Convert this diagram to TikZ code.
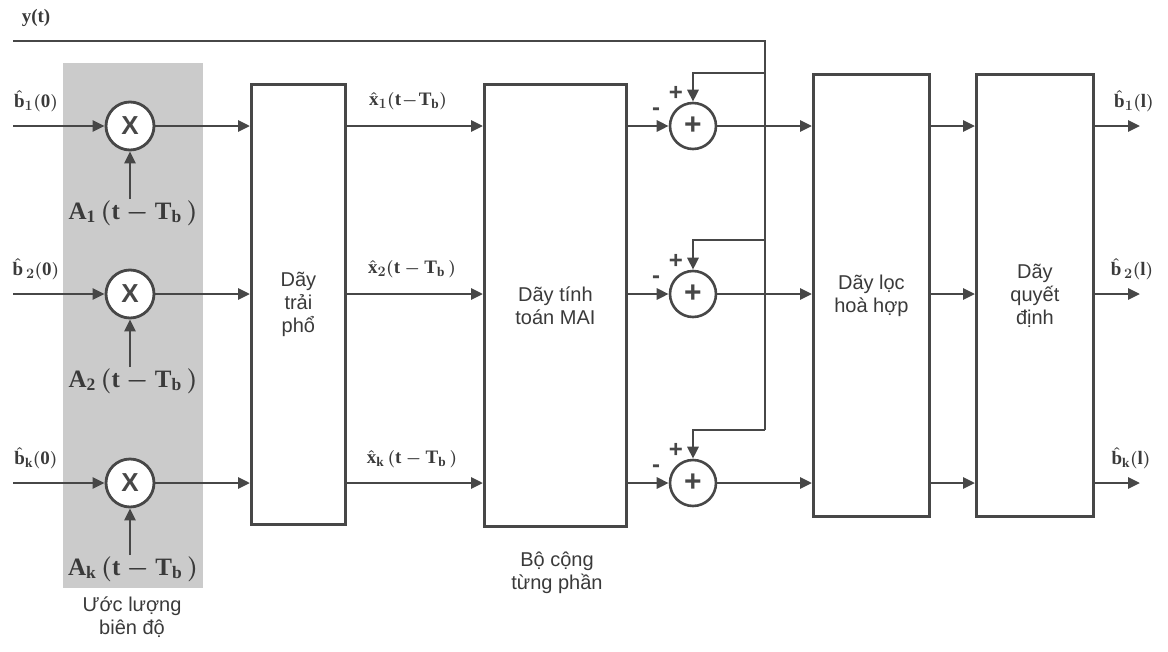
\documentclass[tikz,border=0pt]{standalone}
\usepackage{fontspec}
\setmainfont{Liberation Serif}
\setsansfont{Liberation Sans}
\usetikzlibrary{arrows.meta,positioning}
\definecolor{linegray}{HTML}{474747}
\definecolor{shadegray}{HTML}{CBCBCB}
\definecolor{textgray}{HTML}{3A3A3A}
\newcommand{\sigfont}{\fontsize{19}{21}\selectfont\bfseries\boldmath}
\newcommand{\ampfont}{\fontsize{25}{28}\selectfont\bfseries\boldmath}
\newcommand{\boxfont}{\fontsize{20}{23}\selectfont\sffamily}

\begin{document}
\begin{tikzpicture}[
  x=1pt, y=-1pt,
  line width=2.8pt, draw=linegray,
  blockbox/.style={draw=linegray, line width=2.8pt, fill=white, anchor=north west,
    inner sep=0pt, align=center, text=textgray, font=\boxfont},
  mulnode/.style={circle, draw=linegray, line width=2.8pt, fill=white, minimum size=48pt,
    inner sep=0pt, font=\sffamily\bfseries\fontsize{26}{26}\selectfont, text=linegray},
  sumnode/.style={circle, draw=linegray, line width=2.6pt, fill=white, minimum size=46pt,
    inner sep=0pt, font=\sffamily\bfseries\fontsize{30}{30}\selectfont, text=linegray},
  sig/.style={font=\sigfont, text=textgray, inner sep=0pt},
  amp/.style={font=\ampfont, text=textgray, inner sep=0pt},
  sign/.style={font=\sffamily\bfseries\fontsize{24}{24}\selectfont, text=linegray, inner sep=0pt},
  caption/.style={font=\boxfont, text=textgray, align=center, inner sep=0pt},
  arr/.style={draw=linegray, line width=2.8pt, -{Triangle[length=12pt, width=11pt]}}
]
  \useasboundingbox (0,0) rectangle (1168,651);

  % shaded amplitude estimation strip
  \fill[shadegray] (63,63) rectangle (203,588);

  % blocks
  \node[blockbox, minimum width=94pt, minimum height=440pt] (spread) at (250,83) {Dãy\\trải\\phổ};
  \node[blockbox, minimum width=142pt, minimum height=442pt] (mai) at (483,83) {Dãy tính\\toán MAI};
  \node[blockbox, minimum width=116pt, minimum height=442pt] (mf) at (812,73) {Dãy lọc\\hoà hợp};
  \node[blockbox, minimum width=117pt, minimum height=442pt] (dec) at (975,73) {Dãy\\quyết\\định};

  % multipliers and adders
  \node[mulnode] (m1) at (130,126) {X};
  \node[mulnode] (m2) at (130,294) {X};
  \node[mulnode] (m3) at (130,483) {X};
  \node[sumnode] (s1) at (693,126) {+};
  \node[sumnode] (s2) at (693,294) {+};
  \node[sumnode] (s3) at (693,483) {+};

  % inputs
  \coordinate (in1) at (13,126);
  \coordinate (in2) at (13,294);
  \coordinate (in3) at (13,483);
  \node[sig] (b1in) at (36,101) {$\hat{\mathrm{b}}_{1}\mathrm{(0)}$};
  \node[sig] (b2in) at (36,269) {$\hat{\mathrm{b}}_{\,2}\mathrm{(0)}$};
  \node[sig] (b3in) at (36,458) {$\hat{\mathrm{b}}_{\mathrm{k}}\mathrm{(0)}$};
  \draw[arr] (in1) -- (m1);
  \draw[arr] (in2) -- (m2);
  \draw[arr] (in3) -- (m3);

  % amplitudes
  \node[amp] (a1) at (133,213) {$\mathrm{A_1\,(t-T_b\,)}$};
  \node[amp] (a2) at (133,381) {$\mathrm{A_2\,(t-T_b\,)}$};
  \node[amp] (a3) at (133,569) {$\mathrm{A_k\,(t-T_b\,)}$};
  \draw[arr] (a1.north -| m1) -- (m1);
  \draw[arr] (a2.north -| m2) -- (m2);
  \draw[arr] (a3.north -| m3) -- (m3);

  % into spreading block
  \draw[arr] (m1) -- (m1 -| spread.west);
  \draw[arr] (m2) -- (m2 -| spread.west);
  \draw[arr] (m3) -- (m3 -| spread.west);

  % spread outputs
  \draw[arr] (m1 -| spread.east) -- (m1 -| mai.west);
  \draw[arr] (m2 -| spread.east) -- (m2 -| mai.west);
  \draw[arr] (m3 -| spread.east) -- (m3 -| mai.west);
  \node[sig] (x1) at (408,101) {$\hat{\mathrm{x}}_{1}\mathrm{(t\!-\!T_b)}$};
  \node[sig] (x2) at (412,269) {$\hat{\mathrm{x}}_{2}\mathrm{(t-T_b\,)}$};
  \node[sig] (x3) at (412,459) {$\hat{\mathrm{x}}_{\mathrm{k}}\mathrm{\,(t-T_b\,)}$};

  % MAI to adders
  \draw[arr] (s1 -| mai.east) -- (s1);
  \draw[arr] (s2 -| mai.east) -- (s2);
  \draw[arr] (s3 -| mai.east) -- (s3);
  \node[sign] (n1) at (656,112) {-};
  \node[sign] (n2) at (656,280) {-};
  \node[sign] (n3) at (656,469) {-};
  \node[sign] (p1) at (676,93) {+};
  \node[sign] (p2) at (676,261) {+};
  \node[sign] (p3) at (676,450) {+};

  % received signal y(t)
  \node[sig] (ylab) at (36,18) {y(t)};
  \coordinate (ystart) at (13,41);
  \coordinate (ycorner) at (765,41);
  \coordinate (br1) at (765,73);
  \coordinate (br2) at (765,240);
  \coordinate (br3) at (765,430);
  \draw (ystart) -- (ycorner) -- (br3);
  \draw[arr] (br1) -| (s1);
  \draw[arr] (br2) -| (s2);
  \draw[arr] (br3) -| (s3);

  % adders to matched filter
  \draw[arr] (s1) -- (s1 -| mf.west);
  \draw[arr] (s2) -- (s2 -| mf.west);
  \draw[arr] (s3) -- (s3 -| mf.west);

  % matched filter to decision
  \draw[arr] (s1 -| mf.east) -- (s1 -| dec.west);
  \draw[arr] (s2 -| mf.east) -- (s2 -| dec.west);
  \draw[arr] (s3 -| mf.east) -- (s3 -| dec.west);

  % outputs
  \coordinate (out1) at (1140,126);
  \coordinate (out2) at (1140,294);
  \coordinate (out3) at (1140,483);
  \draw[arr] (s1 -| dec.east) -- (out1);
  \draw[arr] (s2 -| dec.east) -- (out2);
  \draw[arr] (s3 -| dec.east) -- (out3);
  \node[sig] (b1out) at (1134,101) {$\hat{\mathrm{b}}_{1}\mathrm{(l)}$};
  \node[sig] (b2out) at (1132,269) {$\hat{\mathrm{b}}_{\,2}\mathrm{(l)}$};
  \node[sig] (b3out) at (1131,458) {$\hat{\mathrm{b}}_{\mathrm{k}}\mathrm{(l)}$};

  % captions
  \node[caption] (ampcap) at (132,617) {Ước lượng\\biên độ};
  \node[caption] (maicap) at (557,573) {Bộ cộng\\từng phần};
\end{tikzpicture}
\end{document}
